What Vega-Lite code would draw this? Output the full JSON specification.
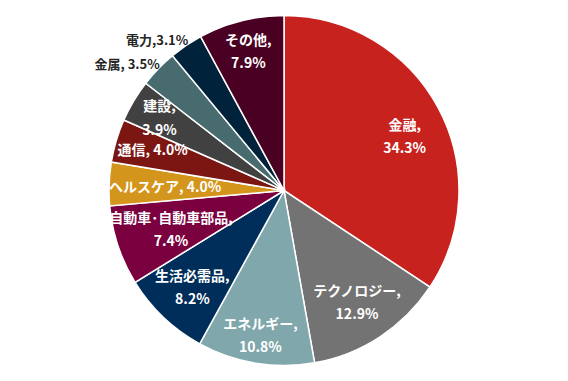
{
  "$schema": "https://vega.github.io/schema/vega-lite/v6.json",
  "width": 568,
  "height": 381,
  "autosize": {"type": "fit", "contains": "padding"},
  "padding": 0,
  "background": "white",
  "view": {"stroke": null},
  "data": {
    "values": [
      {"idx": 1, "sector": "金融", "value": 34.3, "label": ["金融,", "34.3%"]},
      {"idx": 2, "sector": "テクノロジー", "value": 12.9, "label": ["テクノロジー,", "12.9%"]},
      {"idx": 3, "sector": "エネルギー", "value": 10.8, "label": ["エネルギー,", "10.8%"]},
      {"idx": 4, "sector": "生活必需品", "value": 8.2, "label": ["生活必需品,", "8.2%"]},
      {"idx": 5, "sector": "自動車・自動車部品", "value": 7.4, "label": ["自動車･自動車部品,", "7.4%"]},
      {"idx": 6, "sector": "ヘルスケア", "value": 4.0, "label": ["ヘルスケア, 4.0%"]},
      {"idx": 7, "sector": "通信", "value": 4.0, "label": ["通信, 4.0%"]},
      {"idx": 8, "sector": "建設", "value": 3.9, "label": ["建設,", "3.9%"]},
      {"idx": 9, "sector": "金属", "value": 3.5, "label": ["金属, 3.5%"]},
      {"idx": 10, "sector": "電力", "value": 3.1, "label": ["電力,3.1%"]},
      {"idx": 11, "sector": "その他", "value": 7.9, "label": ["その他,", "7.9%"]}
    ]
  },
  "encoding": {
    "theta": {"field": "value", "type": "quantitative", "stack": true},
    "order": {"field": "idx", "type": "quantitative"}
  },
  "layer": [
    {
      "mark": {"type": "arc", "outerRadius": 175, "stroke": "white", "strokeWidth": 1.5},
      "encoding": {
        "color": {
          "field": "sector",
          "type": "nominal",
          "legend": null,
          "scale": {
            "domain": ["金融", "テクノロジー", "エネルギー", "生活必需品", "自動車・自動車部品", "ヘルスケア", "通信", "建設", "金属", "電力", "その他"],
            "range": ["#C8221F", "#737373", "#7FA7AC", "#002E5A", "#7A0040", "#D4951C", "#7B1613", "#414141", "#476B6E", "#00223A", "#4A0022"]
          }
        }
      }
    },
    {
      "mark": {"type": "text", "radius": 137, "font": "Noto Sans CJK JP", "fontWeight": "bold", "fontSize": 14, "lineHeight": 23.5, "color": "white", "align": "center", "baseline": "middle"},
      "encoding": {"text": {"condition": {"test": "datum.idx == 1", "field": "label"}, "value": ""}}
    },
    {
      "mark": {"type": "text", "radius": 119, "dy": -9, "font": "Noto Sans CJK JP", "fontWeight": "bold", "fontSize": 14, "lineHeight": 23.5, "color": "white", "align": "center", "baseline": "middle"},
      "encoding": {"text": {"condition": {"test": "datum.idx == 5", "field": "label"}, "value": ""}}
    },
    {
      "mark": {"type": "text", "radius": 119, "dy": 2, "font": "Noto Sans CJK JP", "fontWeight": "bold", "fontSize": 14, "color": "white", "align": "center", "baseline": "middle"},
      "encoding": {"text": {"condition": {"test": "datum.idx == 6", "field": "label"}, "value": ""}}
    },
    {
      "mark": {"type": "text", "radius": 133, "dy": -10, "font": "Noto Sans CJK JP", "fontWeight": "bold", "fontSize": 14, "lineHeight": 23.5, "color": "white", "align": "center", "baseline": "middle"},
      "encoding": {"text": {"condition": {"test": "datum.idx == 2 || datum.idx == 4", "field": "label"}, "value": ""}}
    },
    {
      "mark": {"type": "text", "radius": 137, "font": "Noto Sans CJK JP", "fontWeight": "bold", "fontSize": 14, "color": "white", "align": "center", "baseline": "middle"},
      "encoding": {"text": {"condition": {"test": "datum.idx == 7", "field": "label"}, "value": ""}}
    },
    {
      "mark": {"type": "text", "radius": 145, "dy": -9, "font": "Noto Sans CJK JP", "fontWeight": "bold", "fontSize": 14, "lineHeight": 23.5, "color": "white", "align": "center", "baseline": "middle"},
      "encoding": {"text": {"condition": {"test": "datum.idx == 3 || datum.idx == 8 || datum.idx == 11", "field": "label"}, "value": ""}}
    },
    {
      "mark": {"type": "text", "radius": 180, "dx": 5, "font": "Noto Sans CJK JP", "fontWeight": "bold", "fontSize": 13, "color": "#262626", "align": "right", "baseline": "middle"},
      "encoding": {"text": {"condition": {"test": "datum.idx == 9 || datum.idx == 10", "field": "label"}, "value": ""}}
    }
  ]
}
